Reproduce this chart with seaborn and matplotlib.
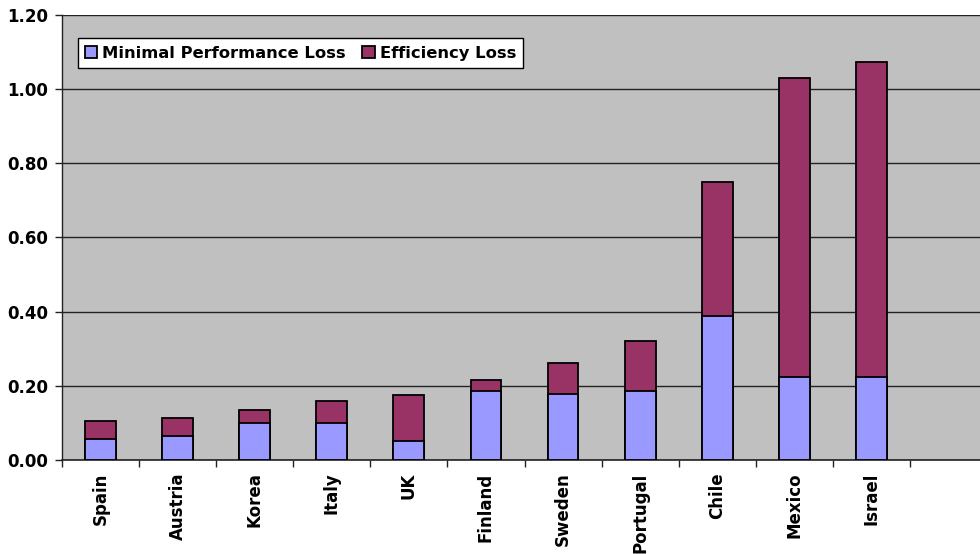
import matplotlib
matplotlib.use("Agg")
import matplotlib.pyplot as plt
from matplotlib.patches import Patch
from matplotlib.ticker import FormatStrFormatter, FixedLocator
import seaborn as sns
import numpy as np

# Loss decomposition by country
countries = ["Spain", "Austria", "Korea", "Italy", "UK", "Finland",
             "Sweden", "Portugal", "Chile", "Mexico", "Israel"]
minimal_performance_loss = [0.057, 0.066, 0.099, 0.101, 0.050, 0.187,
                            0.179, 0.187, 0.388, 0.225, 0.224]
efficiency_loss = [0.049, 0.046, 0.036, 0.058, 0.126, 0.030,
                   0.082, 0.133, 0.362, 0.804, 0.849]
total_loss = [m + e for m, e in zip(minimal_performance_loss, efficiency_loss)]

series_names = ["Minimal Performance Loss", "Efficiency Loss"]
y_ticks = [0.0, 0.2, 0.4, 0.6, 0.8, 1.0, 1.2]

lavender = "#9999FF"
plum = "#993366"
panel_grey = "#C0C0C0"

sns.set_theme(style="white")
plt.rcParams["font.family"] = ["DejaVu Sans"]
plt.rcParams["font.weight"] = "bold"
plt.rcParams["text.color"] = "black"
plt.rcParams["xtick.color"] = "black"
plt.rcParams["ytick.color"] = "black"

fig = plt.figure(figsize=(9.8, 5.54), dpi=100)
ax = fig.add_axes([62 / 980, 94 / 554, 925 / 980, 445 / 554])
ax.set_facecolor(panel_grey)

# Stacked bars: full height in plum, lower segment in lavender on top
sns.barplot(x=countries, y=total_loss, order=countries, color=plum,
            saturation=1, width=0.4, edgecolor="black", linewidth=1.3,
            ax=ax, zorder=3)
sns.barplot(x=countries, y=minimal_performance_loss, order=countries,
            color=lavender, saturation=1, width=0.4, edgecolor="black",
            linewidth=1.3, ax=ax, zorder=4)

ax.set_xlim(-0.5, 11.5)
ax.set_ylim(0, 1.2)
ax.set_yticks(y_ticks)
ax.yaxis.set_major_formatter(FormatStrFormatter("%.2f"))
ax.yaxis.grid(True, color="#222222", linewidth=1.0, zorder=1)
ax.xaxis.grid(False)
ax.set_axisbelow(True)

for side in ["top", "right"]:
    ax.spines[side].set_visible(False)
ax.spines["left"].set_color("#222222")
ax.spines["left"].set_linewidth(1.0)
ax.spines["bottom"].set_color("#222222")
ax.spines["bottom"].set_linewidth(1.2)

ax.tick_params(axis="y", which="major", direction="out", length=5,
               width=1, color="#222222", labelcolor="black", labelsize=12,
               pad=5, left=True)
ax.tick_params(axis="x", which="major", length=0, labelcolor="black",
               labelsize=12, pad=9)
ax.xaxis.set_minor_locator(FixedLocator(np.arange(-0.5, 12.0, 1.0)))
ax.tick_params(axis="x", which="minor", direction="out", length=5,
               width=1, color="#222222", bottom=True)
ax.set_xticks(range(len(countries)))
ax.set_xticklabels(countries, rotation=90, fontweight="bold", va="top",
                   color="black")
for lbl in ax.get_yticklabels():
    lbl.set_fontweight("bold")
    lbl.set_color("black")
ax.set_xlabel("")
ax.set_ylabel("")

handles = [Patch(facecolor=lavender, edgecolor="black", linewidth=1.3),
           Patch(facecolor=plum, edgecolor="black", linewidth=1.3)]
leg = ax.legend(handles, series_names, loc="upper left",
                bbox_to_anchor=(0.017, 0.948), borderaxespad=0, ncol=2,
                frameon=True, fancybox=False, edgecolor="black",
                framealpha=1, facecolor="white",
                prop={"weight": "bold", "size": 11.8},
                handlelength=0.75, handleheight=0.75, handletextpad=0.3,
                columnspacing=1.0, borderpad=0.45)
leg.get_frame().set_linewidth(1.0)
leg.set_zorder(5)
for txt in leg.get_texts():
    txt.set_color("black")

fig.savefig("out.png", dpi=100, facecolor="white")
